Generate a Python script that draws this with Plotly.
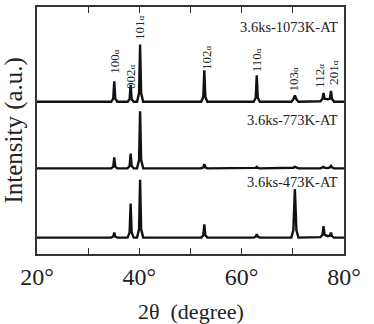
import plotly.graph_objects as go

# ---- data ----
two_theta = [20.0,
             34.5, 34.9, 35.1, 35.3, 35.7,
             37.7, 38.1, 38.3, 38.5, 38.9,
             39.55, 39.95, 40.15, 40.35, 40.75,
             52.1, 52.5, 52.7, 52.9, 53.3,
             62.35, 62.75, 62.95, 63.15, 63.55,
             69.7, 70.1, 70.4, 70.7, 71.1,
             75.4, 75.8, 76.0, 76.2, 76.6,
             76.8, 77.25, 77.45, 77.65, 78.05,
             80.0]

int_1073 = [0,
            0, 3.1, 20.7, 3.1, 0,
            0, 2.5, 16.7, 2.5, 0,
            0, 8.7, 57.7, 8.7, 0,
            0, 4.8, 31.7, 4.8, 0,
            0, 4.0, 26.6, 4.0, 0,
            0, 2.5, 6.2, 2.5, 0,
            0.5, 3.0, 8.8, 3.0, 2.5,
            2.5, 3.0, 11.0, 3.0, 0,
            0]

int_773 = [0,
           0, 1.7, 11.0, 1.7, 0,
           0, 2.3, 15.0, 2.3, 0,
           0, 8.7, 57.7, 8.7, 0,
           0, 1.0, 4.4, 1.0, 0,
           0, 0.5, 1.5, 0.5, 0,
           0, 0.6, 1.5, 0.6, 0,
           0, 0.6, 1.5, 0.6, 0.3,
           0.3, 1.0, 2.5, 1.0, 0,
           0]

int_473 = [0,
           0, 1.2, 5.0, 1.2, 0,
           0, 5.1, 34.3, 5.1, 0,
           0, 8.7, 58.3, 8.7, 0,
           0, 2.5, 13.3, 2.5, 0,
           0, 1.0, 3.3, 1.0, 0,
           0, 7.4, 49.0, 7.4, 0,
           0.5, 3.0, 11.6, 3.0, 1.5,
           1.5, 2.0, 5.0, 1.5, 0,
           0]

series_names = ["3.6ks-1073K-AT", "3.6ks-773K-AT", "3.6ks-473K-AT"]
series_offsets = [153.5, 86.3, 16.5]

peak_labels = ["100", "002", "101", "102", "110", "103", "112", "201"]
peak_label_x = [35.1, 38.3, 40.15, 53.0, 62.95, 70.05, 75.2, 77.9]
peak_label_y = [194, 179, 228, 198.5, 195, 176, 180, 183]

name_y = [229, 135, 73]

x_tick_vals = [20, 30, 40, 50, 60, 70, 80]
x_tick_text = ["20°", "", "40°", "", "60°", "", "80°"]

FONT = "Liberation Serif, Times New Roman, serif"

fig = go.Figure()
for ys, off in zip([int_1073, int_773, int_473], series_offsets):
    fig.add_trace(go.Scatter(
        x=two_theta, y=[v + off for v in ys], mode="lines",
        line=dict(color="#111111", width=2.4), showlegend=False,
        hoverinfo="skip"))

for name, yy in zip(series_names, name_y):
    fig.add_annotation(x=79.3, y=yy, text=name, showarrow=False,
                       xanchor="right", yanchor="middle",
                       font=dict(family=FONT, size=14.5, color="#222"))

for lab, lx, ly in zip(peak_labels, peak_label_x, peak_label_y):
    fig.add_annotation(x=lx, y=ly, text=lab + "<span style='font-size:9px'>α</span>",
                       showarrow=False, textangle=-90,
                       xanchor="center", yanchor="middle",
                       font=dict(family=FONT, size=13, color="#222"))

fig.add_annotation(xref="paper", yref="paper", x=-0.078, y=0.5,
                   text="Intensity (a.u.)", textangle=-90, showarrow=False,
                   xanchor="center", yanchor="middle",
                   font=dict(family=FONT, size=25, color="#222"))
fig.add_annotation(xref="paper", yref="paper", x=0.5, y=-0.232,
                   text="2θ  (degree)", showarrow=False,
                   xanchor="center", yanchor="middle",
                   font=dict(family=FONT, size=22, color="#222"))

fig.update_layout(
    width=374, height=324,
    margin=dict(l=37, r=30, t=5, b=70),
    paper_bgcolor="white", plot_bgcolor="white",
    font=dict(family=FONT, color="#222"),
    xaxis=dict(range=[20, 80], tickvals=x_tick_vals, ticktext=x_tick_text,
               ticks="inside", ticklen=6, tickwidth=1.3, tickcolor="#333",
               showline=True, linecolor="#333", linewidth=1.5, mirror="ticks",
               showgrid=False, zeroline=False,
               tickfont=dict(family=FONT, size=24, color="#222")),
    yaxis=dict(range=[0, 249], showticklabels=False, ticks="",
               showline=True, linecolor="#333", linewidth=1.5, mirror=True,
               showgrid=False, zeroline=False),
)

fig.write_html("out.html")
